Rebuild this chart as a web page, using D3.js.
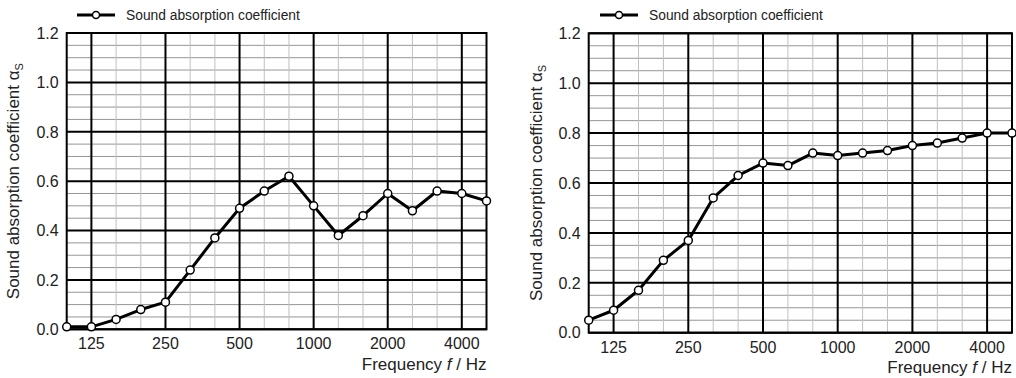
<!DOCTYPE html>
<html>
<head>
<meta charset="utf-8">
<script src="https://cdn.jsdelivr.net/npm/d3@7"></script>
<style>
  html, body { margin: 0; padding: 0; background: #fff; }
  svg { display: block; font-family: "Liberation Sans", Arial, sans-serif; }
</style>
</head>
<body>
<svg id="chart" width="1016" height="378"></svg>
<script>
// ---- data ----
const frequencies = ["100","125","160","200","250","315","400","500","630","800","1000","1250","1600","2000","2500","3150","4000","5000"];
const octaveTicks = ["125","250","500","1000","2000","4000"];
const yTicks = [0, 0.2, 0.4, 0.6, 0.8, 1.0, 1.2];
const leftValues  = [0.01,0.01,0.04,0.08,0.11,0.24,0.37,0.49,0.56,0.62,0.50,0.38,0.46,0.55,0.48,0.56,0.55,0.52];
const rightValues = [0.05,0.09,0.17,0.29,0.37,0.54,0.63,0.68,0.67,0.72,0.71,0.72,0.73,0.75,0.76,0.78,0.80,0.80];
const legendLabel = "Sound absorption coefficient";

const svg = d3.select("#chart");

const panels = [
  { values: leftValues,  x0: 66.7,  x1: 486.5, y0: 33,   y1: 329.3, legendX: 77,  titleX: 13.5 },
  { values: rightValues, x0: 588.7, x1: 1012,  y0: 33.3, y1: 332.7, legendX: 600, titleX: 536 }
];

panels.forEach(p => {
  const g = svg.append("g");
  const x = d3.scalePoint().domain(frequencies).range([p.x0, p.x1]);
  const y = d3.scaleLinear().domain([0, 1.2]).range([p.y1, p.y0]);

  // minor horizontal grid (0.05)
  const minorY = d3.range(0, 1.2001, 0.05).filter(v => Math.abs(Math.round(v*5) - v*5) > 1e-6);
  g.selectAll(".hminor").data(minorY).join("line")
    .attr("x1", p.x0).attr("x2", p.x1)
    .attr("y1", d => y(d)).attr("y2", d => y(d))
    .attr("stroke", "#969696").attr("stroke-width", 1);

  // minor vertical grid (third octaves)
  g.selectAll(".vminor").data(frequencies.filter(f => !octaveTicks.includes(f))).join("line")
    .attr("x1", d => x(d)).attr("x2", d => x(d))
    .attr("y1", p.y0).attr("y2", p.y1)
    .attr("stroke", "#c0c0c0").attr("stroke-width", 1);

  // major horizontal
  g.selectAll(".hmajor").data(yTicks).join("line")
    .attr("x1", p.x0).attr("x2", p.x1)
    .attr("y1", d => y(d)).attr("y2", d => y(d))
    .attr("stroke", "#000").attr("stroke-width", 2);

  // major vertical
  g.selectAll(".vmajor").data(octaveTicks).join("line")
    .attr("x1", d => x(d)).attr("x2", d => x(d))
    .attr("y1", p.y0).attr("y2", p.y1)
    .attr("stroke", "#000").attr("stroke-width", 2);

  // frame
  g.append("rect")
    .attr("x", p.x0).attr("y", p.y0)
    .attr("width", p.x1 - p.x0).attr("height", p.y1 - p.y0)
    .attr("fill", "none").attr("stroke", "#000").attr("stroke-width", 2);

  // y tick labels
  g.selectAll(".ylab").data(yTicks).join("text")
    .attr("x", p.x0 - 8).attr("y", d => y(d))
    .attr("dy", "0.36em").attr("text-anchor", "end")
    .attr("font-size", 16).attr("fill", "#222")
    .text(d => d3.format(".1f")(d));

  // x tick labels
  g.selectAll(".xlab").data(octaveTicks).join("text")
    .attr("x", d => x(d)).attr("y", p.y1 + 20)
    .attr("text-anchor", "middle")
    .attr("font-size", 16).attr("fill", "#222")
    .text(d => d);

  // x title
  const xt = g.append("text")
    .attr("x", p.x1).attr("y", p.y1 + 40.5)
    .attr("text-anchor", "end").attr("font-size", 17).attr("fill", "#222");
  xt.append("tspan").text("Frequency ");
  xt.append("tspan").attr("font-style", "italic").text("f");
  xt.append("tspan").text(" / Hz");

  // y title
  const yt = g.append("text")
    .attr("transform", `translate(${p.titleX},${(p.y0 + p.y1) / 2}) rotate(-90)`)
    .attr("text-anchor", "middle").attr("dy", "0.35em")
    .attr("font-size", 17).attr("fill", "#222");
  yt.append("tspan").text("Sound absorption coefficient α");
  yt.append("tspan").attr("font-size", 11).attr("dy", "4").text("S");

  // data line
  const line = d3.line().x((d, i) => x(frequencies[i])).y(d => y(d));
  g.append("path").datum(p.values)
    .attr("d", line).attr("fill", "none")
    .attr("stroke", "#000").attr("stroke-width", 3).attr("stroke-linejoin", "round");

  g.selectAll(".pt").data(p.values).join("circle")
    .attr("cx", (d, i) => x(frequencies[i])).attr("cy", d => y(d))
    .attr("r", 4).attr("fill", "#fff").attr("stroke", "#000").attr("stroke-width", 1.5);

  // legend
  const lg = g.append("g").attr("transform", `translate(${p.legendX},15)`);
  lg.append("line").attr("x1", 0).attr("x2", 38).attr("y1", 0).attr("y2", 0)
    .attr("stroke", "#000").attr("stroke-width", 3);
  lg.append("circle").attr("cx", 19).attr("cy", 0).attr("r", 3.5)
    .attr("fill", "#fff").attr("stroke", "#000").attr("stroke-width", 1.5);
  lg.append("text").attr("x", 49).attr("y", 0).attr("dy", "0.35em")
    .attr("font-size", 13.8).attr("fill", "#222").text(legendLabel);
});
</script>
</body>
</html>
